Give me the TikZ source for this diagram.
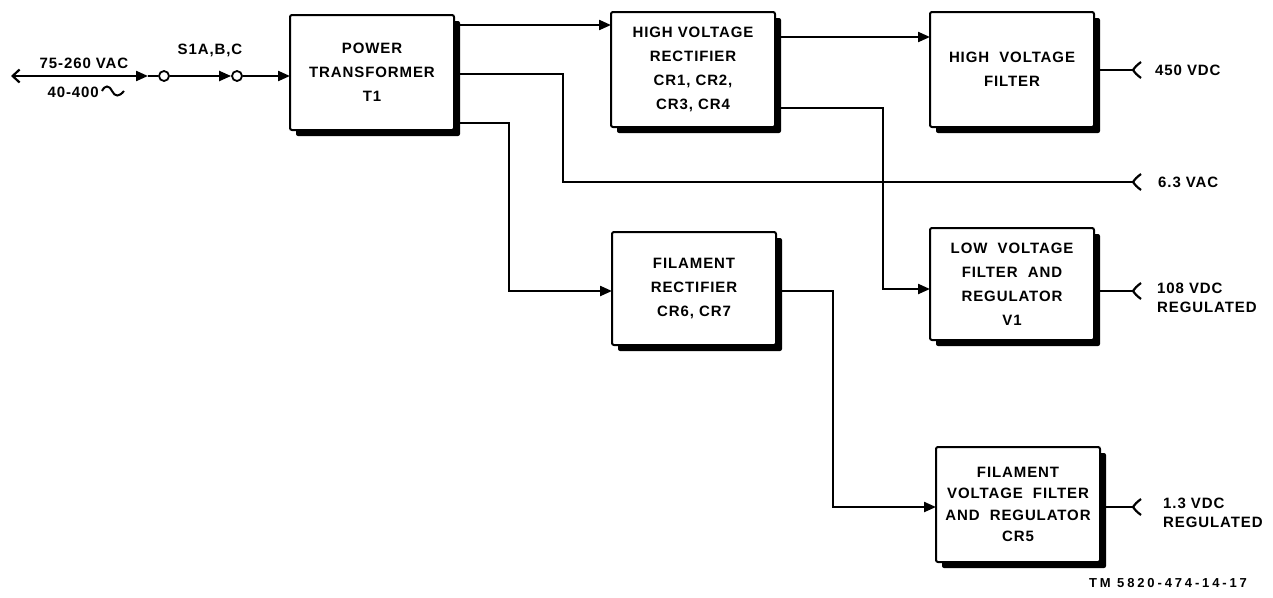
\documentclass[tikz,border=0pt]{standalone}
\usepackage{fontspec}
\setmainfont{Liberation Sans}[LetterSpace=6]
\newfontfamily\tmfont{Liberation Sans}[LetterSpace=22]
\usetikzlibrary{arrows.meta,shadows,calc}
\tikzset{
  blk/.style={draw, line width=2pt, fill=white, rounded corners=2pt, inner sep=0pt, outer sep=0pt,
    align=center, minimum width=164pt, minimum height=115pt,
    font=\bfseries\fontsize{15}{24}\selectfont,
    drop shadow={shadow xshift=6pt, shadow yshift=-6pt, opacity=1, fill=black}},
  con/.style={line width=2.2pt},
  arr/.style={con, -{Triangle[length=12pt,width=10pt]}},
  sw/.style={circle, draw, fill=white, line width=1.8pt, minimum size=10pt, inner sep=0pt},
  lbl/.style={font=\bfseries\fontsize{15}{19}\selectfont, align=left, inner sep=0pt},
  fork/.pic={\draw[line width=2.2pt] (8,-8) .. controls (3,-4) .. (0,0) .. controls (3,4) .. (8,8);}
}
\begin{document}
\begin{tikzpicture}[x=1pt,y=-1pt]
\useasboundingbox (0,0) rectangle (1273,597);
% blocks
\node[blk] (pt) at (372,72.5) {POWER\\TRANSFORMER\\T1};
\node[blk] (hvr) at (693,69.5) {HIGH VOLTAGE\\RECTIFIER\\CR1, CR2,\\CR3, CR4};
\node[blk] (hvf) at (1012,69.5) {HIGH \ VOLTAGE\\FILTER};
\node[blk, minimum height=112pt] (lvf) at (1012,284) {LOW \ VOLTAGE\\FILTER \ AND\\REGULATOR\\V1};
\node[blk, minimum height=113pt] (fr) at (694,288.5) {FILAMENT\\RECTIFIER\\CR6, CR7};
\node[blk, font=\bfseries\fontsize{15}{21.5}\selectfont] (fvf) at (1018,504.5) {FILAMENT\\VOLTAGE \ FILTER\\AND \ REGULATOR\\CR5};
% input
\coordinate (in) at (11,76);
\coordinate (a1) at (148,76);
\node[sw] (c1) at (164,76) {};
\node[sw] (c2) at (237,76) {};
\draw[con, {Straight Barb[length=7pt,width=13pt]}-{Triangle[length=12pt,width=10pt]}] (in) -- (a1);
\draw[con] (a1) -- (c1);
\draw[arr] (c1) -- (c2);
\draw[arr] (c2) -- (pt.west |- c2);
\node[lbl] (v1) at (84,63) {75-260 VAC};
\node[lbl, anchor=east] (v2) at (99,92) {40-400};
\draw[line width=2pt] (102,91) .. controls (105,85) and (109,85) .. (112,91) .. controls (115,97) and (119,97) .. (124,91);
\node[lbl] (sw1) at (210,50) {S1A,B,C};
% transformer outputs
\coordinate (j1) at (563,182);
\coordinate (j2) at (509,291);
\coordinate (o63) at (1133,182);
\draw[arr] (pt.east |- 0,25) -- (hvr.west |- 0,25);
\draw[con] (pt.east |- 0,74) -| (j1) -- (o63);
\pic at (o63) {fork};
\draw[arr] (pt.east |- 0,123) -| (j2) -- (fr.west |- j2);
% HV rectifier outputs
\coordinate (j3) at (883,289);
\draw[arr] (hvr.east |- 0,37) -- (hvf.west |- 0,37);
\draw[arr] (hvr.east |- 0,108) -| (j3) -- (lvf.west |- j3);
% filament rectifier output
\coordinate (j4) at (833,507);
\draw[arr] (fr.east |- 0,291) -| (j4) -- (fvf.west |- j4);
% outputs
\coordinate (o450) at (1133,70);
\coordinate (o108) at (1133,291);
\coordinate (o13) at (1133,507);
\draw[con] (hvf.east |- o450) -- (o450); \pic at (o450) {fork};
\draw[con] (lvf.east |- o108) -- (o108); \pic at (o108) {fork};
\draw[con] (fvf.east |- o13) -- (o13); \pic at (o13) {fork};
\node[lbl, anchor=west] (t450) at (1155,70) {450 VDC};
\node[lbl, anchor=west] (t63) at (1158,182) {6.3 VAC};
\node[lbl, anchor=north west] (t108) at (1157,283) {108 VDC\\REGULATED};
\node[lbl, anchor=north west] (t13) at (1163,498) {1.3 VDC\\REGULATED};
\node[font=\tmfont\bfseries\fontsize{13}{14}\selectfont, inner sep=0pt] (tm) at (1168,583) {TM 5820-474-14-17};
\end{tikzpicture}
\end{document}
